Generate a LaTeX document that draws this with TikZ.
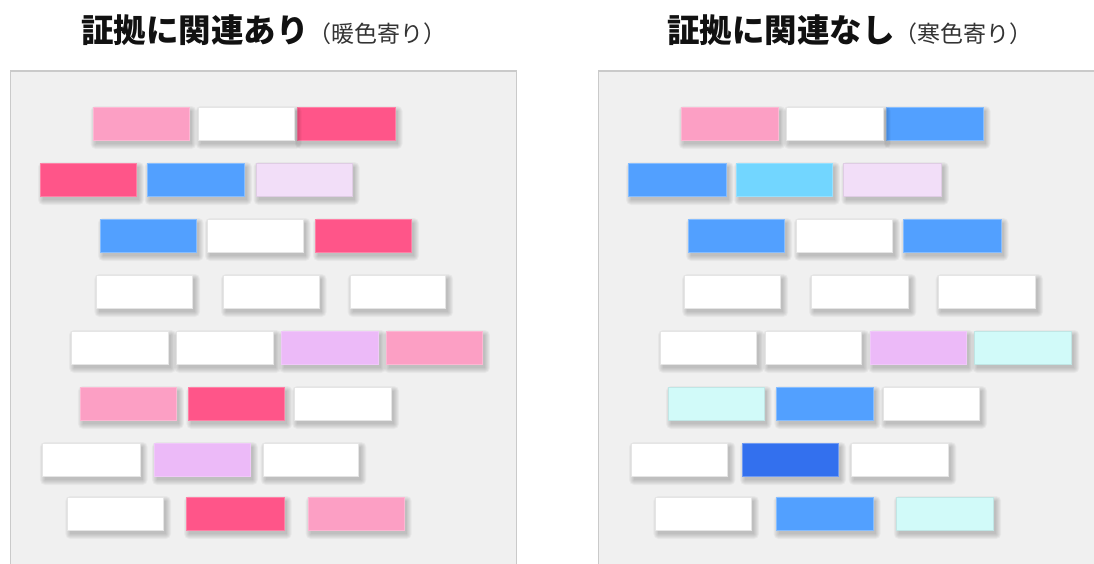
\documentclass[tikz,border=0pt]{standalone}
\usepackage{fontspec}
\newfontfamily\jp{Noto Sans CJK JP}
\definecolor{cPinkL}{HTML}{FC9FC4}
\definecolor{cRed}{HTML}{FF5589}
\definecolor{cBlue}{HTML}{52A0FF}
\definecolor{cLav}{HTML}{F2DEF8}
\definecolor{cLilac}{HTML}{ECBAF8}
\definecolor{cSky}{HTML}{72D6FF}
\definecolor{cAqua}{HTML}{D1FAF9}
\definecolor{cDBlue}{HTML}{3370EE}
\definecolor{cPanel}{HTML}{F0F0F0}
\definecolor{cPanelEdge}{HTML}{CACACA}
\definecolor{cTitle}{HTML}{111111}
\definecolor{cSub}{HTML}{333333}
\tikzset{
  cell/.style={rectangle, anchor=north west, minimum height=33pt, inner sep=0pt,
    line width=0.7pt},
  wcell/.style={cell, fill=white, draw=black!10},
  pcell/.style={cell, fill=cPinkL, draw=cPinkL!75!white},
  rcell/.style={cell, fill=cRed, draw=cRed!75!white},
  bcell/.style={cell, fill=cBlue, draw=cBlue!70!white},
  lvcell/.style={cell, fill=cLav, draw=cLav!92!black},
  licell/.style={cell, fill=cLilac, draw=cLilac!80!white},
  scell/.style={cell, fill=cSky, draw=cSky!75!white},
  acell/.style={cell, fill=cAqua, draw=cAqua!92!black},
  dcell/.style={cell, fill=cDBlue, draw=cDBlue!70!white},
  softshadow/.style={fill=black, opacity=0.035},
  panel/.style={fill=cPanel, draw=cPanelEdge, line width=1.8pt},
  title/.style={anchor=base, inner sep=0pt, font=\jp}
}
\newcommand\mkcell[5]{%
  \foreach \r in {0,1,...,5}{%
    \fill[softshadow, rounded corners=\r pt] (#2+3-\r,#3+4-\r) rectangle (#2+3+#4+\r,#3+4+33+\r);}
  \node[#5, minimum width=#4pt] (#1) at (#2,#3) {};}
\begin{document}
\begin{tikzpicture}[x=1pt,y=-1pt]
\useasboundingbox (0,0) rectangle (1094,563);
\fill[white] (0,0) rectangle (1094,563);
\node[title] (tL) at (264,42) {{\fontsize{32.5}{32.5}\selectfont\bfseries\color{cTitle}証拠に関連あり}{\fontsize{23}{23}\selectfont\color{cSub}（暖色寄り）}};
\node[title] (tR) at (850,42) {{\fontsize{32.5}{32.5}\selectfont\bfseries\color{cTitle}証拠に関連なし}{\fontsize{23}{23}\selectfont\color{cSub}（寒色寄り）}};
\begin{scope}
\clip (0,0) rectangle (1094,563);
\draw[panel] (10.5,71) rectangle (516.5,600);
\draw[panel] (598.5,71) rectangle (1110,600);
% left panel (right to left in each row)
\mkcell{L13}{297}{107}{97.5}{rcell}
\mkcell{L12}{197.5}{107}{96}{wcell}
\mkcell{L11}{92.5}{107}{96}{pcell}
\mkcell{L23}{255.5}{163}{96}{lvcell}
\mkcell{L22}{146.5}{163}{97.5}{bcell}
\mkcell{L21}{40}{163}{96}{rcell}
\mkcell{L33}{315}{219}{96}{rcell}
\mkcell{L32}{207}{219}{95.5}{wcell}
\mkcell{L31}{100}{219}{95.7}{bcell}
\mkcell{L43}{349.6}{275}{95.6}{wcell}
\mkcell{L42}{223}{275}{95.6}{wcell}
\mkcell{L41}{96.3}{275}{95.7}{wcell}
\mkcell{L54}{385.6}{331}{96.3}{pcell}
\mkcell{L53}{280.9}{331}{97.3}{licell}
\mkcell{L52}{176.2}{331}{97}{wcell}
\mkcell{L51}{71}{331}{97.3}{wcell}
\mkcell{L63}{294.1}{387}{97}{wcell}
\mkcell{L62}{188.4}{387}{96}{rcell}
\mkcell{L61}{79.9}{387}{96}{pcell}
\mkcell{L73}{262.7}{443}{95.6}{wcell}
\mkcell{L72}{153.9}{443}{95.9}{licell}
\mkcell{L71}{41.9}{443}{97.7}{wcell}
\mkcell{L83}{307.7}{497}{96}{pcell}
\mkcell{L82}{186}{497}{97.7}{rcell}
\mkcell{L81}{67.3}{497}{95.7}{wcell}
% right panel (right to left in each row)
\mkcell{R13}{886}{107}{96.5}{bcell}
\mkcell{R12}{785.6}{107}{97}{wcell}
\mkcell{R11}{680.5}{107}{97}{pcell}
\mkcell{R23}{843.3}{163}{97.6}{lvcell}
\mkcell{R22}{736}{163}{96}{scell}
\mkcell{R21}{628}{163}{97.6}{bcell}
\mkcell{R33}{903}{219}{97.5}{bcell}
\mkcell{R32}{796}{219}{96}{wcell}
\mkcell{R31}{688}{219}{96}{bcell}
\mkcell{R43}{937.7}{275}{97.4}{wcell}
\mkcell{R42}{811}{275}{97.4}{wcell}
\mkcell{R41}{684.2}{275}{96}{wcell}
\mkcell{R54}{974}{331}{97.4}{acell}
\mkcell{R53}{870}{331}{96}{licell}
\mkcell{R52}{765}{331}{96.4}{wcell}
\mkcell{R51}{660}{331}{96.4}{wcell}
\mkcell{R63}{882.5}{387}{96.5}{wcell}
\mkcell{R62}{776.3}{387}{96.3}{bcell}
\mkcell{R61}{668}{387}{95.7}{acell}
\mkcell{R73}{850.6}{443}{97.7}{wcell}
\mkcell{R72}{742}{443}{96}{dcell}
\mkcell{R71}{631}{443}{96.4}{wcell}
\mkcell{R83}{895.8}{497}{97.4}{acell}
\mkcell{R82}{775.5}{497}{97}{bcell}
\mkcell{R81}{655.4}{497}{95.7}{wcell}
\end{scope}
\end{tikzpicture}
\end{document}
